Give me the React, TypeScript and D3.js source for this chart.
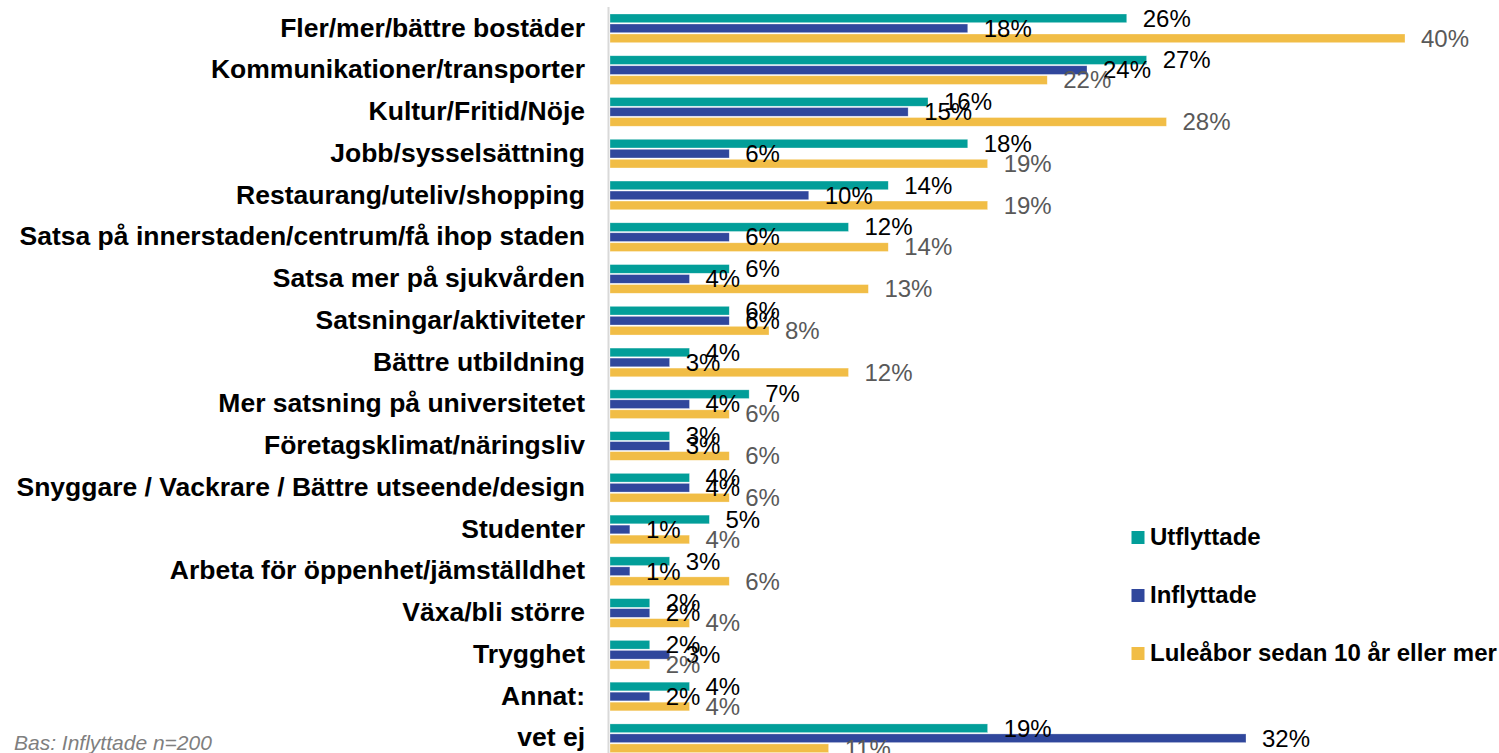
import React from "react";
import * as d3 from "d3";

const categories = [
  "Fler/mer/bättre bostäder",
  "Kommunikationer/transporter",
  "Kultur/Fritid/Nöje",
  "Jobb/sysselsättning",
  "Restaurang/uteliv/shopping",
  "Satsa på innerstaden/centrum/få ihop staden",
  "Satsa mer på sjukvården",
  "Satsningar/aktiviteter",
  "Bättre utbildning",
  "Mer satsning på universitetet",
  "Företagsklimat/näringsliv",
  "Snyggare / Vackrare / Bättre utseende/design",
  "Studenter",
  "Arbeta för öppenhet/jämställdhet",
  "Växa/bli större",
  "Trygghet",
  "Annat:",
  "vet ej",
];

const seriesNames = ["Utflyttade", "Inflyttade", "Luleåbor sedan 10 år eller mer"];
const utflyttade = [26, 27, 16, 18, 14, 12, 6, 6, 4, 7, 3, 4, 5, 3, 2, 2, 4, 19];
const inflyttade = [18, 24, 15, 6, 10, 6, 4, 6, 3, 4, 3, 4, 1, 1, 2, 3, 2, 32];
const lulebor = [40, 22, 28, 19, 19, 14, 13, 8, 12, 6, 6, 6, 4, 6, 4, 2, 4, 11];
const seriesValues = [utflyttade, inflyttade, lulebor];
const colors = ["#029e99", "#30479c", "#f1bd46"];
const labelColors = ["#000000", "#000000", "#595959"];
const footnote = "Bas: Inflyttade n=200";

export default function App() {
  const W = 1499;
  const H = 753;
  const step = 41.76;
  const y0 = 8.12;
  const y = d3
    .scaleBand<string>()
    .domain(categories)
    .range([y0, y0 + step * categories.length])
    .paddingInner(11.76 / step)
    .paddingOuter(11.76 / step / 2);
  const inner = d3.scaleBand<string>().domain(seriesNames).range([0, y.bandwidth()]);
  const x = d3.scaleLinear().domain([0, 40]).range([610, 1405]);
  const font = "Arial, 'Liberation Sans', sans-serif";

  return (
    <svg
      width={W}
      height={H}
      style={{ position: "absolute", left: 0, top: 0, background: "#fff" }}
      fontFamily={font}
    >
      <line x1={608.5} x2={608.5} y1={7} y2={H} stroke="#d9d9d9" strokeWidth={2} />
      {categories.map((c, i) => (
        <g key={c}>
          <text
            x={585}
            y={(y(c) as number) + y.bandwidth() / 2 + 7.5}
            textAnchor="end"
            fontWeight="bold"
            fontSize={26.5}
            fill="#000"
          >
            {c}
          </text>
          {seriesNames.map((s, j) => {
            const v = seriesValues[j][i];
            const by = (y(c) as number) + (inner(s) as number);
            return (
              <rect
                key={s}
                x={x(0)}
                y={by}
                width={x(v) - x(0)}
                height={inner.bandwidth() - 1.3}
                fill={colors[j]}
                stroke="#ffffff"
                strokeOpacity={0.5}
                strokeWidth={0.6}
              />
            );
          })}
        </g>
      ))}
      {categories.map((c, i) =>
        seriesNames.map((s, j) => {
          const v = seriesValues[j][i];
          const by = (y(c) as number) + (inner(s) as number) + (inner.bandwidth() - 1.3) / 2;
          return (
            <text
              key={c + s}
              x={x(v) + 16}
              y={by + 8.3}
              fontSize={24}
              fill={labelColors[j]}
            >
              {v + "%"}
            </text>
          );
        })
      )}
      {seriesNames.map((s, j) => {
        const cy = 537.5 + j * 58;
        return (
          <g key={s}>
            <rect x={1131.5} y={cy - 6.5} width={13} height={13} fill={colors[j]} />
            <text x={1150} y={cy + 7.5} fontSize={24} fontWeight="bold" fill="#000">
              {s}
            </text>
          </g>
        );
      })}
      <text x={14} y={750} fontSize={21} fontStyle="italic" fill="#7f7f7f">
        {footnote}
      </text>
    </svg>
  );
}
